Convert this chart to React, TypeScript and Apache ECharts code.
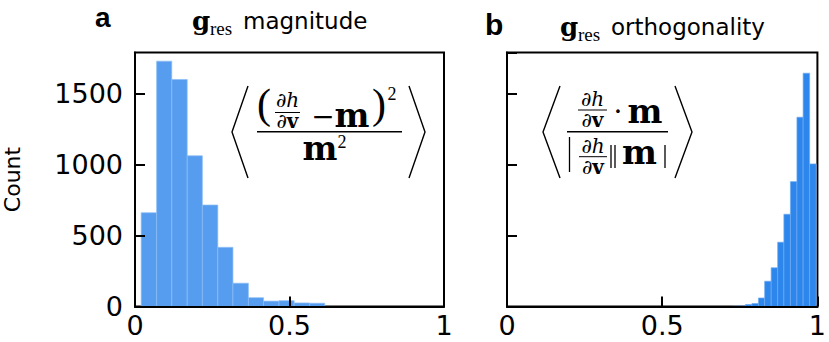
import React, { useEffect, useRef } from "react";
import * as echarts from "echarts";

// ---- data ----
const magEdges = [0.020, 0.070, 0.119, 0.169, 0.218, 0.268, 0.317, 0.367, 0.416, 0.466, 0.515, 0.565, 0.614];
const magCounts = [661, 1729, 1600, 1062, 715, 417, 164, 62, 38, 41, 25, 23];
const orthEdges = [0.727, 0.748, 0.768, 0.789, 0.810, 0.830, 0.851, 0.872, 0.892, 0.913, 0.934, 0.954, 0.975, 0.996];
const orthCounts = [3, 4, 14, 21, 60, 178, 273, 453, 650, 880, 1334, 1644, 1005];
const xTicks = [0, 0.5, 1];
const yTicks = [0, 500, 1000, 1500];
const yMax = 1790;

const toBins = (edges: number[], counts: number[]) =>
  counts.map((c, i) => [edges[i], edges[i + 1], c]);

const SANS = "'DejaVu Sans', sans-serif";
const SERIF = "'DejaVu Serif', serif";
const LSERIF = "'Liberation Serif', serif";
const HELV = "'Liberation Sans', Arial, sans-serif";

function txt(text: string, x: number, y: number, size: number, family: string, opts: any = {}) {
  return {
    type: "text",
    x,
    y,
    z: 100,
    style: {
      text,
      fontSize: size,
      fontFamily: family,
      fontWeight: opts.weight || "normal",
      fontStyle: opts.style || "normal",
      fill: "#000",
      align: opts.align || "center",
      verticalAlign: "middle",
    },
  };
}
function ln(x1: number, y1: number, x2: number, y2: number, w = 1.3) {
  return { type: "line", z: 100, shape: { x1, y1, x2, y2 }, style: { stroke: "#000", lineWidth: w } };
}
function pl(points: number[][], w = 1.4) {
  return { type: "polyline", z: 100, shape: { points }, style: { stroke: "#000", lineWidth: w, fill: "none" } };
}
function frac(cx: number, yTop: number, yLine: number, yBot: number, x1: number, x2: number, size = 20) {
  return [
    {
      type: "text", x: cx, y: yTop, z: 100,
      style: { text: "{i|∂h}", align: "center", verticalAlign: "middle",
        rich: { i: { fontFamily: SERIF, fontStyle: "italic", fontSize: size, fill: "#000" } } },
    },
    ln(x1, yLine, x2, yLine, 1),
    {
      type: "text", x: cx, y: yBot, z: 100,
      style: { text: "{i|∂}{b|v}", align: "center", verticalAlign: "middle",
        rich: {
          i: { fontFamily: SERIF, fontStyle: "italic", fontSize: size, fill: "#000" },
          b: { fontFamily: SERIF, fontWeight: "bold", fontSize: size, fill: "#000" },
        } },
    },
  ];
}

export default function App() {
  const ref = useRef<HTMLDivElement>(null);
  useEffect(() => {
    if (!ref.current) return;
    const chart = echarts.init(ref.current, undefined, { renderer: "svg" });

    const renderItem = (color: string, edge: string) => (params: any, api: any) => {
      const p0 = api.coord([api.value(0), api.value(2)]);
      const p1 = api.coord([api.value(1), 0]);
      return {
        type: "rect",
        shape: { x: p0[0], y: p0[1], width: p1[0] - p0[0], height: p1[1] - p0[1] },
        style: { fill: color, stroke: edge, lineWidth: 0.7 },
      };
    };

    const grids = [
      { left: 127, top: 52.5, width: 317, height: 254 },
      { left: 507, top: 52.5, width: 316, height: 254 },
    ];
    const xAxisBase = (gi: number) => ({
      type: "value",
      gridIndex: gi,
      min: 0,
      max: 1,
      interval: 0.5,
      z: 10,
      axisLine: { show: true, lineStyle: { color: "#000", width: 2 } },
      axisTick: { show: true, inside: true, length: 10, lineStyle: { color: "#000", width: 2 } },
      axisLabel: {
        fontSize: 27, fontFamily: SANS, color: "#000", margin: 5,
        formatter: (v: number) => (xTicks.includes(v) ? String(v) : ""),
      },
      splitLine: { show: false },
    });
    const yAxisBase = (gi: number, labels: boolean) => ({
      type: "value",
      gridIndex: gi,
      min: 0,
      max: yMax,
      interval: 500,
      z: 10,
      name: labels ? "Count" : "",
      nameLocation: "middle",
      nameRotate: 90,
      nameGap: 112,
      nameTextStyle: { fontSize: 22, fontFamily: SANS, color: "#000" },
      axisLine: { show: true, lineStyle: { color: "#000", width: 2 } },
      axisTick: { show: true, inside: true, length: 10, lineStyle: { color: "#000", width: 2 } },
      axisLabel: {
        show: labels, fontSize: 27, fontFamily: SANS, color: "#000", margin: 12,
        showMaxLabel: false,
        formatter: (v: number) => (yTicks.includes(v) ? String(v) : ""),
      },
      splitLine: { show: false },
    });

    const graphics: any[] = [
      // panel labels and titles
      txt("a", 95, 17.5, 28, HELV, { weight: "bold", align: "left" }),
      txt("g", 192, 20.5, 26, SERIF, { weight: "bold", align: "left" }),
      txt("res", 210, 28.5, 19, LSERIF, { align: "left" }),
      txt("magnitude", 243, 21.3, 23, SANS, { align: "left" }),
      txt("b", 485, 24, 30, HELV, { weight: "bold", align: "left" }),
      txt("g", 560, 26.5, 26, SERIF, { weight: "bold", align: "left" }),
      txt("res", 578, 34.5, 19, LSERIF, { align: "left" }),
      txt("orthogonality", 611, 27.3, 23, SANS, { align: "left" }),

      // left formula
      pl([[248, 86], [232, 132], [248, 178]]),
      pl([[409, 86], [425, 132], [409, 178]]),
      txt("(", 264, 103.5, 42, LSERIF),
      ...frac(287.5, 100, 112.5, 121, 275, 300),
      txt("−", 323, 116, 28, SERIF),
      txt("m", 352, 115.5, 33, SERIF, { weight: "bold" }),
      txt(")", 379, 103.5, 42, LSERIF),
      txt("2", 392, 94, 18, LSERIF),
      ln(257, 131.7, 402, 131.7, 1.5),
      txt("m", 320, 148.5, 33, SERIF, { weight: "bold" }),
      txt("2", 342, 142, 18, LSERIF),

      // right formula
      pl([[560, 86], [543, 132], [560, 178]]),
      pl([[675, 86], [692, 132], [675, 178]]),
      ...frac(592.5, 98.5, 110, 119.5, 578, 607),
      txt("·", 618, 111, 28, SERIF),
      txt("m", 645, 111.6, 33, SERIF, { weight: "bold" }),
      ln(567, 131.7, 668, 131.7, 1.5),
      ln(569.5, 137, 569.5, 172, 1.3),
      ...frac(593, 145.5, 156.7, 166.5, 579, 607),
      ln(611, 145, 611, 168, 1.3),
      ln(615, 145, 615, 168, 1.3),
      txt("m", 639.5, 152.8, 33, SERIF, { weight: "bold" }),
      ln(665, 145, 665, 168, 1.3),
    ];

    chart.setOption({
      animation: false,
      backgroundColor: "#fff",
      grid: grids.map((g) => ({ ...g, show: true, borderColor: "#000", borderWidth: 2, backgroundColor: "transparent" })),
      xAxis: [xAxisBase(0), xAxisBase(1)],
      yAxis: [yAxisBase(0, true), yAxisBase(1, false)],
      series: [
        {
          type: "custom", xAxisIndex: 0, yAxisIndex: 0,
          renderItem: renderItem("#569DF0", "#8DBDF5"),
          encode: { x: [0, 1], y: 2 },
          data: toBins(magEdges, magCounts),
        },
        {
          type: "custom", xAxisIndex: 1, yAxisIndex: 1,
          renderItem: renderItem("#2C86EC", "#6FAAF2"),
          encode: { x: [0, 1], y: 2 },
          data: toBins(orthEdges, orthCounts),
        },
      ],
      graphic: graphics,
    });
    return () => chart.dispose();
  }, []);
  return <div ref={ref} style={{ position: "fixed", left: 0, top: 0, width: 829, height: 342, background: "#fff" }} />;
}
